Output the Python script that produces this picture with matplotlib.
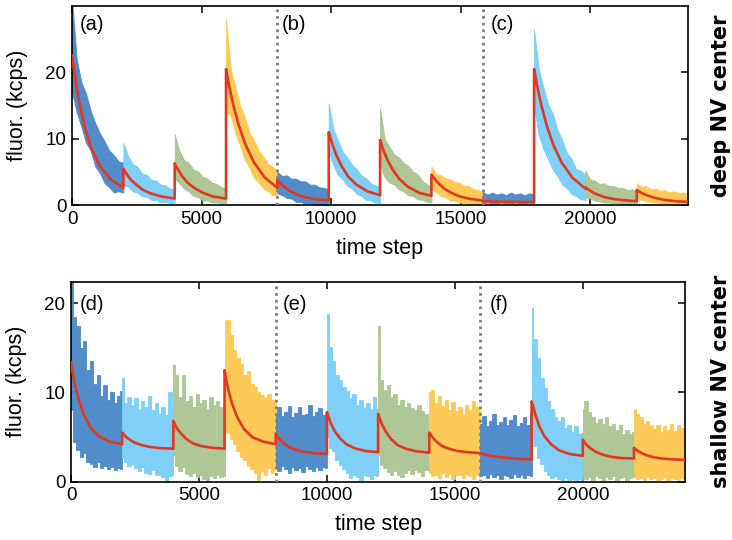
import numpy as np
import matplotlib.pyplot as plt

# --------------------------------------------------------
# DATA (kcps)
# --------------------------------------------------------
n_segments = 12
top_seg_len = 1982
bot_seg_len = 2000

seg_colors = ["#4787c8", "#78cdf8", "#abc391", "#fec84e"]
fit_color = "#e2381f"

# fractions of a segment where the fit curve was read
fit_frac = [0, 0.03, 0.08, 0.15, 0.25, 0.38, 0.54, 0.75, 1.0]

# deep NV center: upper / lower edge of the noisy trace, 12 samples per segment
top_upper = [
    [31.0, 22.0, 18.5, 16.8, 14.2, 12.3, 10.8, 9.6, 8.2, 7.5, 6.6, 6.4],
    [9.4, 7.4, 6.2, 5.8, 4.8, 4.6, 3.8, 3.7, 3.1, 3.0, 2.5, 2.5],
    [10.7, 8.2, 6.8, 6.4, 5.4, 5.1, 4.3, 4.0, 3.4, 3.2, 2.7, 2.6],
    [28.0, 20.5, 17.8, 15.0, 13.3, 11.0, 9.8, 8.2, 7.3, 6.2, 5.8, 5.2],
    [5.0, 4.4, 4.5, 4.0, 4.0, 3.6, 3.6, 3.1, 3.1, 2.7, 2.6, 2.4],
    [15.3, 11.5, 9.7, 8.0, 7.2, 6.1, 5.4, 4.5, 4.1, 3.3, 3.0, 2.7],
    [14.6, 10.0, 8.8, 7.7, 7.2, 6.4, 6.0, 5.1, 4.7, 3.7, 3.2, 2.8],
    [5.8, 4.7, 4.5, 4.1, 3.9, 3.5, 3.4, 2.9, 2.9, 2.4, 2.3, 2.0],
    [2.0, 1.6, 1.9, 1.6, 1.8, 1.5, 1.9, 1.6, 1.8, 1.5, 1.8, 1.6],
    [26.5, 20.5, 17.8, 15.2, 13.8, 11.3, 9.9, 7.9, 7.0, 5.5, 5.2, 4.6],
    [5.2, 3.9, 3.7, 3.2, 3.3, 2.9, 2.9, 2.6, 2.6, 2.3, 2.4, 2.2],
    [3.3, 2.8, 2.9, 2.4, 2.5, 2.2, 2.3, 1.9, 2.1, 1.8, 1.9, 1.8],
]
top_lower = [
    [17.0, 14.0, 11.8, 9.4, 8.2, 5.8, 4.8, 3.3, 2.7, 1.9, 2.1, 1.9],
    [3.0, 2.8, 2.1, 1.9, 1.3, 1.3, 0.8, 0.8, 0.4, 0.5, 0.3, 0.3],
    [4.0, 3.3, 2.5, 2.1, 1.4, 1.2, 0.7, 0.7, 0.4, 0.4, 0.3, 0.3],
    [14.0, 13.5, 10.8, 9.0, 6.8, 5.7, 4.1, 3.4, 2.5, 2.1, 1.5, 1.5],
    [1.8, 1.5, 1.1, 1.0, 0.5, 0.5, 0.2, 0.2, 0.1, 0.1, 0.0, 0.0],
    [8.0, 6.0, 4.5, 3.9, 2.9, 2.5, 1.7, 1.4, 0.8, 0.7, 0.4, 0.3],
    [6.0, 4.2, 3.4, 3.1, 2.4, 2.1, 1.5, 1.4, 0.9, 0.8, 0.5, 0.4],
    [2.5, 2.0, 1.4, 1.2, 0.7, 0.7, 0.4, 0.4, 0.2, 0.2, 0.1, 0.1],
    [0.3, 0.4, 0.3, 0.3, 0.4, 0.3, 0.3, 0.4, 0.3, 0.3, 0.4, 0.3],
    [15.0, 10.5, 8.4, 6.9, 5.4, 4.4, 3.1, 2.6, 1.7, 1.4, 0.9, 0.8],
    [1.2, 1.0, 0.7, 0.6, 0.4, 0.4, 0.3, 0.3, 0.2, 0.2, 0.2, 0.2],
    [1.0, 0.8, 0.6, 0.5, 0.4, 0.3, 0.3, 0.2, 0.2, 0.2, 0.2, 0.2],
]
top_fit = [
    [22.5, 20.8, 18.2, 15.1, 11.7, 8.5, 5.9, 3.9, 2.6],
    [5.5, 5.1, 4.5, 3.8, 3.1, 2.3, 1.75, 1.3, 1.0],
    [6.3, 5.8, 5.2, 4.3, 3.4, 2.6, 1.9, 1.3, 1.0],
    [20.5, 19.2, 17.2, 14.8, 12.0, 9.1, 6.5, 4.2, 2.6],
    [3.8, 3.5, 3.1, 2.65, 2.1, 1.6, 1.2, 0.9, 0.7],
    [11.0, 10.2, 9.0, 7.5, 5.9, 4.3, 3.1, 2.1, 1.5],
    [9.8, 9.1, 8.0, 6.7, 5.3, 3.9, 2.8, 1.9, 1.4],
    [4.6, 4.3, 3.8, 3.2, 2.5, 1.9, 1.35, 0.95, 0.7],
    [0.6, 0.6, 0.58, 0.56, 0.54, 0.52, 0.5, 0.48, 0.45],
    [20.5, 19.2, 17.2, 14.8, 11.9, 9.0, 6.4, 4.1, 2.5],
    [2.7, 2.5, 2.25, 1.9, 1.55, 1.2, 0.95, 0.75, 0.6],
    [2.3, 2.15, 1.9, 1.65, 1.35, 1.05, 0.8, 0.6, 0.5],
]

# shallow NV center: 16 samples per segment
bot_upper = [
    [23.5, 18.5, 17.5, 15.0, 15.8, 12.5, 13.5, 11.0, 12.0, 9.6, 10.8, 9.2, 10.0, 8.8, 9.6, 10.2],
    [11.6, 8.8, 9.5, 8.6, 9.4, 8.2, 9.0, 8.4, 9.6, 8.0, 8.8, 7.6, 8.4, 7.5, 10.0, 7.8],
    [13.1, 12.0, 9.5, 12.0, 9.0, 9.6, 8.4, 9.8, 8.8, 9.2, 8.2, 9.5, 8.6, 9.0, 8.4, 8.6],
    [18.0, 18.1, 16.5, 14.8, 13.9, 13.2, 12.0, 12.4, 11.0, 10.6, 10.0, 9.7, 9.4, 9.8, 9.2, 9.0],
    [7.6, 8.4, 7.4, 7.8, 8.5, 7.3, 7.7, 8.4, 7.5, 7.6, 8.6, 7.4, 7.8, 8.3, 7.5, 7.6],
    [18.8, 15.1, 13.5, 12.0, 11.4, 10.6, 10.2, 9.4, 9.8, 8.6, 9.2, 8.3, 8.8, 8.2, 9.5, 8.2],
    [17.5, 11.4, 10.3, 10.8, 9.5, 9.8, 8.6, 9.2, 8.4, 8.8, 8.3, 8.0, 8.6, 7.9, 7.6, 7.2],
    [10.1, 10.3, 8.8, 9.6, 8.5, 9.2, 8.0, 8.9, 7.9, 8.4, 7.6, 8.6, 8.0, 9.0, 8.4, 8.3],
    [6.5, 7.4, 6.2, 6.8, 7.6, 6.4, 6.7, 7.2, 6.3, 6.9, 7.5, 6.2, 6.6, 7.3, 6.4, 7.7],
    [19.5, 16.0, 13.9, 11.6, 10.5, 9.0, 8.2, 7.2, 6.8, 7.3, 6.0, 6.4, 5.6, 6.2, 5.3, 5.5],
    [8.1, 9.0, 7.8, 7.2, 6.6, 7.0, 6.5, 7.2, 6.2, 6.5, 5.8, 6.4, 5.4, 5.8, 5.4, 5.6],
    [8.1, 7.6, 7.2, 6.5, 6.8, 6.3, 5.9, 6.4, 5.6, 6.2, 5.8, 6.5, 5.7, 6.3, 6.0, 5.9],
]
bot_lower = [
    [8.0, 4.5, 3.5, 2.8, 3.2, 2.2, 2.0, 1.6, 2.2, 1.5, 1.8, 1.4, 1.6, 1.3, 1.5, 1.4],
    [2.6, 2.2, 1.8, 2.0, 1.5, 1.2, 1.6, 1.0, 0.9, 1.3, 0.7, 0.8, 0.5, 0.0, 0.6, 0.8],
    [3.0, 1.8, 1.2, 1.6, 0.9, 0.6, 1.0, 0.5, 0.8, 0.3, 0.0, 0.6, 0.4, 0.8, 0.5, 0.6],
    [6.0, 5.5, 4.8, 4.2, 3.4, 2.8, 2.4, 1.8, 1.4, 1.0, 0.2, 1.2, 0.8, 1.5, 1.0, 1.3],
    [1.6, 1.2, 1.8, 1.4, 1.0, 1.7, 1.3, 1.5, 1.1, 1.8, 1.4, 1.2, 1.7, 1.3, 1.6, 1.5],
    [5.0, 3.8, 3.4, 2.4, 1.9, 1.4, 1.0, 0.4, 0.8, 0.5, 0.2, 0.8, 0.6, 0.3, 0.7, 0.6],
    [3.0, 1.9, 1.5, 1.1, 0.8, 1.2, 0.8, 0.5, 1.0, 1.3, 0.9, 1.3, 1.1, 0.6, 1.3, 1.3],
    [1.0, 0.6, 0.8, 0.4, 1.0, 0.5, 0.9, 0.3, 0.7, 0.8, 0.4, 0.9, 0.6, 0.3, 0.7, 0.5],
    [0.6, 0.8, 0.4, 0.9, 0.5, 0.7, 0.3, 0.8, 0.6, 0.4, 0.9, 0.5, 0.7, 0.4, 0.8, 0.6],
    [4.5, 4.0, 2.7, 2.0, 1.2, 0.8, 0.4, 0.6, 0.3, 0.2, 0.4, 0.2, 0.3, 0.2, 0.3, 0.2],
    [0.6, 0.3, 0.5, 0.2, 0.6, 0.4, 0.1, 0.5, 0.3, 0.6, 0.2, 0.4, 0.5, 0.2, 0.4, 0.5],
    [0.5, 0.3, 0.4, 0.2, 0.5, 0.3, 0.4, 0.2, 0.3, 0.5, 0.2, 0.4, 0.3, 0.2, 0.4, 0.3],
]
bot_fit = [
    [13.4, 12.3, 10.8, 9.2, 7.5, 6.1, 5.1, 4.5, 4.2],
    [5.5, 5.3, 5.0, 4.7, 4.35, 4.1, 3.9, 3.75, 3.7],
    [6.8, 6.45, 5.9, 5.4, 4.8, 4.3, 4.0, 3.8, 3.7],
    [12.5, 11.5, 10.2, 8.7, 7.2, 5.9, 5.0, 4.5, 4.2],
    [5.4, 5.1, 4.75, 4.35, 3.9, 3.6, 3.35, 3.2, 3.1],
    [7.8, 7.3, 6.5, 5.7, 4.9, 4.2, 3.75, 3.45, 3.3],
    [7.6, 7.1, 6.4, 5.6, 4.8, 4.1, 3.7, 3.4, 3.25],
    [5.5, 5.25, 4.85, 4.45, 4.0, 3.7, 3.45, 3.3, 3.2],
    [3.2, 3.15, 3.05, 2.95, 2.85, 2.75, 2.65, 2.55, 2.5],
    [9.0, 8.4, 7.4, 6.2, 5.1, 4.2, 3.5, 3.1, 2.9],
    [4.7, 4.45, 4.1, 3.75, 3.35, 3.05, 2.8, 2.65, 2.6],
    [3.8, 3.65, 3.45, 3.2, 2.95, 2.75, 2.6, 2.5, 2.45],
]

panel_labels = [["(a)", "(b)", "(c)"], ["(d)", "(e)", "(f)"]]
row_titles = ["deep NV center", "shallow NV center"]

plt.rcParams["font.family"] = ["Liberation Sans", "DejaVu Sans"]


# --------------------------------------------------------
# PANEL DRAWING
# --------------------------------------------------------
def draw_panel(ax, seg_len, upper, lower, fit, ymax, labels, label_x, label_y, step):
    fit_x, fit_y = [], []
    for k in range(n_segments):
        s = k * seg_len
        xs = np.linspace(s, s + seg_len, len(upper[k]))
        ax.fill_between(xs, lower[k], upper[k], step=step,
                        color=seg_colors[k % 4], lw=0.6, alpha=0.95, zorder=2)
        fit_x.extend(s + seg_len * np.array(fit_frac))
        fit_y.extend(fit[k])
    ax.plot(fit_x, fit_y, color=fit_color, lw=1.9, zorder=4)

    # run boundaries (every 4 segments)
    for k in (4, 8):
        ax.axvline(k * seg_len, color="#808080", ls=(0, (1, 1.4)), lw=2.0, zorder=3)

    ax.set_xlim(0, n_segments * seg_len)
    ax.set_ylim(0, ymax)
    ax.set_xticks([0, 5000, 10000, 15000, 20000])
    ax.set_yticks([0, 10, 20])
    ax.tick_params(direction="in", top=True, right=True, length=5, width=1.1,
                   labelsize=13.5, pad=4)
    for sp in ax.spines.values():
        sp.set_linewidth(1.2)

    for txt, lx in zip(labels, label_x):
        ax.text(lx, label_y, txt, transform=ax.transAxes, fontsize=14.5,
                ha="left", va="center", zorder=5)

    ax.set_xlabel("time step", fontsize=15.5)
    ax.set_ylabel("fluor. (kcps)", fontsize=15.5)


fig = plt.figure(figsize=(7.32, 5.40), dpi=100)
ax1 = fig.add_axes([0.0984, 0.620, 0.8416, 0.369])
ax2 = fig.add_axes([0.0970, 0.108, 0.8390, 0.370])

# deep trace drawn as a smooth band, shallow one as a spiky step band
draw_panel(ax1, top_seg_len, top_upper, top_lower, top_fit, 30,
           panel_labels[0], [0.012, 0.341, 0.679], 0.905, None)
draw_panel(ax2, bot_seg_len, bot_upper, bot_lower, bot_fit, 22.4,
           panel_labels[1], [0.014, 0.344, 0.682], 0.885, "mid")

ax1.xaxis.set_label_coords(0.5, -0.165)
ax2.xaxis.set_label_coords(0.5, -0.16)
ax1.yaxis.set_label_coords(-0.072, 0.5)
ax2.yaxis.set_label_coords(-0.072, 0.5)

fig.text(0.985, 0.805, row_titles[0], rotation=90, ha="center", va="center",
         fontsize=15, fontweight="bold", family="DejaVu Sans")
fig.text(0.985, 0.293, row_titles[1], rotation=90, ha="center", va="center",
         fontsize=15, fontweight="bold", family="DejaVu Sans")

fig.savefig("out.png", dpi=100)
